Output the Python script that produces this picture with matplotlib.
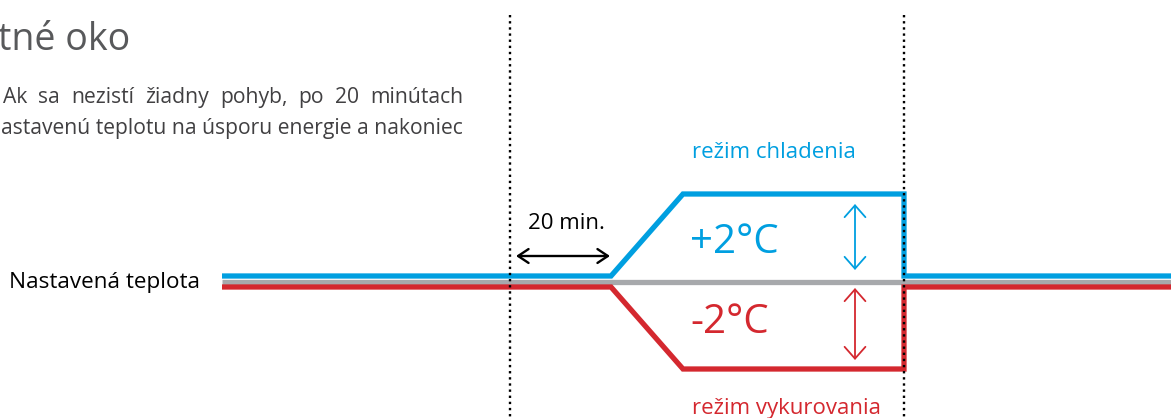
import matplotlib
matplotlib.use("Agg")
import matplotlib.pyplot as plt

plt.rcParams['font.family'] = ['Open Sans', 'DejaVu Sans']

# diagram data (x positions along time axis, offsets in degC)
time_pts = [222, 611, 683, 904, 904, 1171]
cool_offset = [0, 0, 2, 2, 0, 0]
heat_offset = [0, 0, -2, -2, 0, 0]
setpoint_x = [222, 1171]
markers_x = [510, 904]          # dotted time markers
delay_span = [516, 610]         # "20 min." arrow

title = "tné oko"
para_line1 = "Ak sa nezistí žiadny pohyb, po 20 minútach"
para_line2 = "astavenú teplotu na úsporu energie a nakoniec"

BLUE = '#009FE0'
RED = '#D4282F'
GRAY = '#A7A9AC'

W, H = 1171, 418
fig = plt.figure(figsize=(W / 100, H / 100), dpi=100)
ax = fig.add_axes([0, 0, 1, 1])
ax.set_xlim(0, W)
ax.set_ylim(H, 0)
ax.axis('off')

base_y = 282
px_per_deg = 41


def to_y(offsets, shift):
    return [base_y + shift - o * px_per_deg for o in offsets]


# lines
ax.plot(setpoint_x, [base_y, base_y], color=GRAY, lw=3.8, solid_capstyle='butt', zorder=2)
ax.plot(time_pts, to_y(cool_offset, -6), color=BLUE, lw=3.8,
        solid_capstyle='butt', solid_joinstyle='miter', zorder=3)
ax.plot(time_pts, to_y(heat_offset, 5), color=RED, lw=3.8,
        solid_capstyle='butt', solid_joinstyle='miter', zorder=3)

# dotted markers
for mx in markers_x:
    ax.plot([mx, mx], [15, H], color='black', lw=1.7, ls=(0, (1, 1.6)), zorder=4)

# 20 min arrow
ax.annotate('', xy=(delay_span[1], 256), xytext=(delay_span[0], 256),
            arrowprops=dict(arrowstyle='<->,head_length=0.75,head_width=0.5',
                            color='black', lw=1.7, shrinkA=0, shrinkB=0))
ax.text(sum(delay_span) / 2 + 3, 229, "20 min.", fontsize=16, ha='center', va='baseline')

# +/- 2 arrows
ax.annotate('', xy=(855, 204), xytext=(855, 270),
            arrowprops=dict(arrowstyle='<->,head_length=0.85,head_width=0.75',
                            color=BLUE, lw=1.3, shrinkA=0, shrinkB=0))
ax.annotate('', xy=(855, 288), xytext=(855, 360),
            arrowprops=dict(arrowstyle='<->,head_length=0.85,head_width=0.75',
                            color=RED, lw=1.3, shrinkA=0, shrinkB=0))

ax.text(690, 253, "+2°C", fontsize=29, color=BLUE, va='baseline')
ax.text(690, 333, "-2°C", fontsize=29, color=RED, va='baseline')
ax.text(692, 158, "režim chladenia", fontsize=16, color=BLUE, va='baseline')
ax.text(692, 414, "režim vykurovania", fontsize=16, color=RED, va='baseline')

ax.text(9, 288, "Nastavená teplota", fontsize=16.2, va='baseline')

# header text
ax.text(-2, 50, title, fontsize=27, color='#58595B', va='baseline')

renderer = fig.canvas.get_renderer()


def justify(words, x0, x1, y, **kw):
    arts = [ax.text(0, y, w, va='baseline', **kw) for w in words]
    widths = [a.get_window_extent(renderer).width for a in arts]
    gap = (x1 - x0 - sum(widths)) / (len(words) - 1)
    x = x0
    for a, w in zip(arts, widths):
        a.set_x(x)
        x += w + gap


justify(para_line1.split(), 3, 463, 103, fontsize=15.2, color='#414042')
ax.text(463, 134, para_line2, fontsize=15.2, color='#414042', ha='right', va='baseline')

fig.savefig('out.png', dpi=100)
